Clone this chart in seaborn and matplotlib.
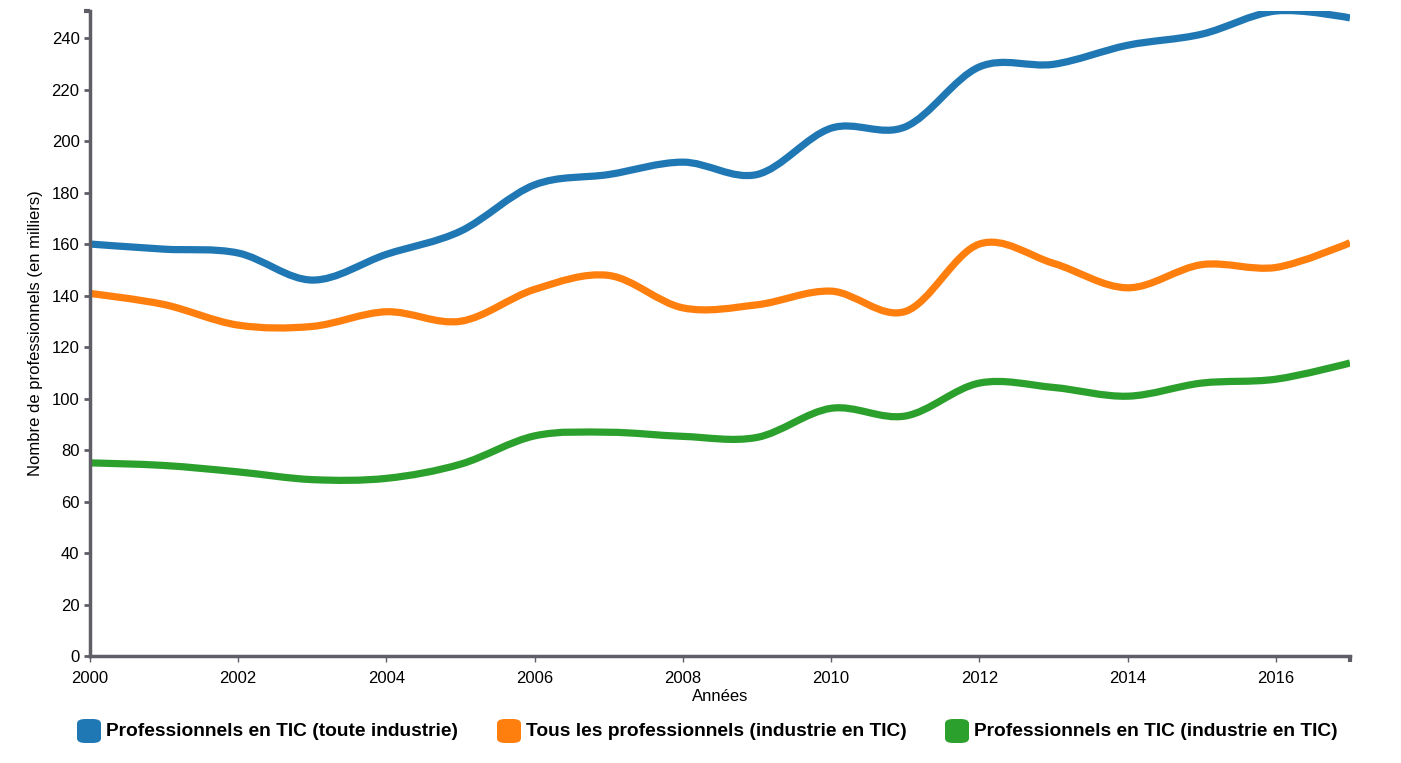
import numpy as np
import pandas as pd
import seaborn as sns
import matplotlib
matplotlib.use("Agg")
import matplotlib.pyplot as plt
from matplotlib.path import Path
from matplotlib.patches import PathPatch, FancyBboxPatch

years = list(range(2000, 2018))
tic_toute_industrie = [160, 158, 156.5, 146, 156, 165, 183, 187, 191.8, 187, 205, 205.5, 228.8, 229.8, 237.2, 241.5, 250.5, 247.8]
tous_pros_industrie_tic = [140.8, 136.5, 128.5, 128, 133.7, 130, 142.4, 147.8, 135.2, 136.4, 141.7, 133.8, 160, 152.5, 143, 152, 150.9, 160.5]
tic_industrie_tic = [75, 74, 71.5, 68.5, 69, 74.5, 85.5, 86.9, 85.3, 84.9, 96.2, 93.2, 106, 104.3, 100.9, 106, 107.5, 113.8]

series_names = [
    "Professionnels en TIC (toute industrie)",
    "Tous les professionnels (industrie en TIC)",
    "Professionnels en TIC (industrie en TIC)",
]
colors = sns.color_palette("tab10", 3)
axis_color = "#5f5d66"


# cardinal spline (tension 0) drawn as bezier segments, same as d3 curveCardinal
def cardinal_path(x, y):
    pts = np.column_stack([x, y]).astype(float)
    n = len(pts)
    verts = [tuple(pts[0])]
    codes = [Path.MOVETO]
    for i in range(n - 1):
        p_prev = pts[i - 1] if i > 0 else pts[i + 1]
        p_next = pts[i + 2] if i + 2 < n else pts[i]
        c1 = pts[i] + (pts[i + 1] - p_prev) / 6 if i > 0 else pts[i]
        c2 = pts[i + 1] - (p_next - pts[i]) / 6 if i + 2 < n else pts[i + 1]
        verts += [tuple(c1), tuple(c2), tuple(pts[i + 1])]
        codes += [Path.CURVE4] * 3
    return Path(verts, codes)


sns.set_style("white")
plt.rcParams["font.family"] = ["Liberation Sans", "DejaVu Sans"]
plt.rcParams["text.color"] = "black"
plt.rcParams["axes.labelcolor"] = "black"

fig = plt.figure(figsize=(14.01, 7.63), dpi=100)
ax = fig.add_axes([90 / 1401, 1 - 656 / 763, 1260 / 1401, 645 / 763])

for vals, color in zip([tic_toute_industrie, tous_pros_industrie_tic, tic_industrie_tic], colors):
    patch = PathPatch(cardinal_path(years, vals), facecolor="none", edgecolor=color,
                      linewidth=5.2, capstyle="butt", joinstyle="round")
    ax.add_patch(patch)

ymax = max(tic_toute_industrie)
ax.set_xlim(2000, 2017)
ax.set_ylim(0, ymax)
ax.set_xticks(range(2000, 2017, 2))
ax.set_yticks(range(0, 241, 20))
ax.set_xticks([2017], minor=True)
ax.set_yticks([ymax], minor=True)
ax.tick_params(axis="both", which="both", bottom=True, left=True)
ax.tick_params(axis="both", which="major", labelsize=12, colors=axis_color, labelcolor="black",
               length=4.5, width=1.0, pad=3)
ax.tick_params(axis="x", which="major", pad=6.5)
ax.tick_params(axis="y", which="major", width=2)
ax.tick_params(axis="both", which="minor", colors=axis_color, length=4.5, width=3)

for side in ["top", "right"]:
    ax.spines[side].set_visible(False)
for side in ["left", "bottom"]:
    ax.spines[side].set_color(axis_color)
    ax.spines[side].set_linewidth(2.5)

ax.set_xlabel("Années", fontsize=12, labelpad=2)
ax.set_ylabel("Nombre de professionnels (en milliers)", fontsize=12, labelpad=6)

# legend below the chart
legend_x = [77, 497, 945]
for name, color, lx in zip(series_names, colors, legend_x):
    box = FancyBboxPatch((lx / 1401, 1 - 743 / 763), 24 / 1401, 24 / 763,
                         boxstyle="round,pad=0,rounding_size=0.006", transform=fig.transFigure,
                         facecolor=color, edgecolor="none")
    fig.patches.append(box)
    fig.text((lx + 29) / 1401, 1 - 732 / 763, name, fontsize=13.8, fontweight="bold",
             va="center", ha="left", color="black")

fig.savefig("out.png", dpi=100)
